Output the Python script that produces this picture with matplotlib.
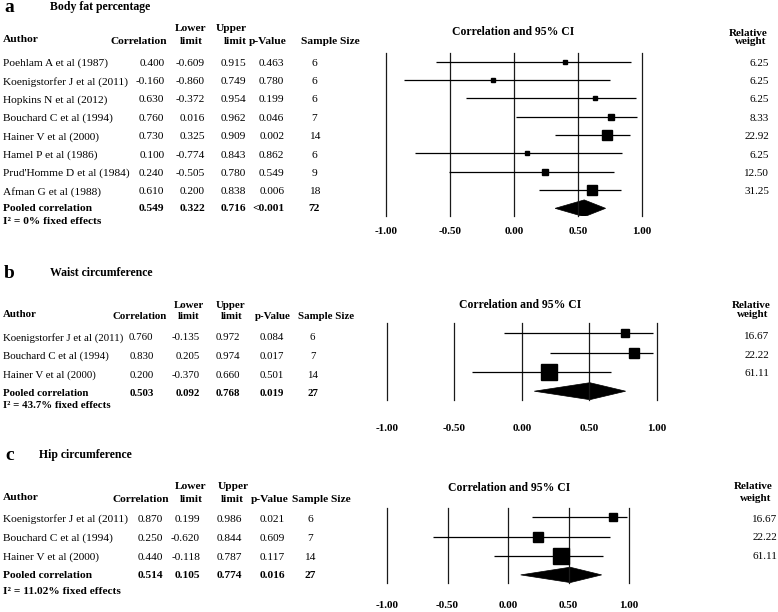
import matplotlib
matplotlib.use("Agg")
import numpy as np
import matplotlib.pyplot as plt
from matplotlib.patches import Polygon

W, H = 778, 612
plt.rcParams['font.family'] = ['Liberation Serif', 'DejaVu Serif']

# ---- data: a) body fat percentage ----
authors_a = ["Poehlam A et al (1987)", "Koenigstorfer J et al (2011)", "Hopkins N et al (2012)",
             "Bouchard C et al (1994)", "Hainer V et al (2000)", "Hamel P et al (1986)",
             "Prud'Homme D et al (1984)", "Afman G et al (1988)"]
corr_a = [0.400, -0.160, 0.630, 0.760, 0.730, 0.100, 0.240, 0.610]
lower_a = [-0.609, -0.860, -0.372, 0.016, 0.325, -0.774, -0.505, 0.200]
upper_a = [0.915, 0.749, 0.954, 0.962, 0.909, 0.843, 0.780, 0.838]
pval_a = ["0.463", "0.780", "0.199", "0.046", "0.002", "0.862", "0.549", "0.006"]
size_a = [6, 6, 6, 7, 14, 6, 9, 18]
weight_a = [6.25, 6.25, 6.25, 8.33, 22.92, 6.25, 12.50, 31.25]
pooled_a = [0.549, 0.322, 0.716]
pooled_p_a = "<0.001"
pooled_n_a = 72
i2_a = "I\u00b2 = 0% fixed effects"

# ---- data: b) waist circumference ----
authors_b = ["Koenigstorfer J et al (2011)", "Bouchard C et al (1994)", "Hainer V et al (2000)"]
corr_b = [0.760, 0.830, 0.200]
lower_b = [-0.135, 0.205, -0.370]
upper_b = [0.972, 0.974, 0.660]
pval_b = ["0.084", "0.017", "0.501"]
size_b = [6, 7, 14]
weight_b = [16.67, 22.22, 61.11]
pooled_b = [0.503, 0.092, 0.768]
pooled_p_b = "0.019"
pooled_n_b = 27
i2_b = "I\u00b2 = 43.7% fixed effects"

# ---- data: c) hip circumference ----
authors_c = ["Koenigstorfer J et al (2011)", "Bouchard C et al (1994)", "Hainer V et al (2000)"]
corr_c = [0.870, 0.250, 0.440]
lower_c = [0.199, -0.620, -0.118]
upper_c = [0.986, 0.844, 0.787]
pval_c = ["0.021", "0.609", "0.117"]
size_c = [6, 7, 14]
weight_c = [16.67, 22.22, 61.11]
pooled_c = [0.514, 0.105, 0.774]
pooled_p_c = "0.016"
pooled_n_c = 27
i2_c = "I\u00b2 = 11.02% fixed effects"

ticks = [-1.0, -0.5, 0.0, 0.5, 1.0]

fig = plt.figure(figsize=(W / 100, H / 100), dpi=100)


def put(x, y, s, ha='left', size=8.2, bold=False):
    # x, y in pixels from top-left
    fig.text(x / W, 1 - y / H, s, ha=ha, va='center', fontsize=size,
             fontweight='bold' if bold else 'normal')


def draw_panel(letter, title, authors, corr, lower, upper, pval, size, weight,
               pooled, pooled_p, pooled_n, i2, L):
    fs = L['fs']
    # title
    put(L['letter_x'], L['title_y'], letter, size=14, bold=True)
    put(L['title_x'], L['title_y'], title, size=8.5, bold=True)

    # table header
    hy1, hy2 = L['head_y']
    put(3, hy2 - 2, "Author", size=fs, bold=True)
    put(L['h_corr'], hy2, "Correlation", ha='right', size=fs, bold=True)
    put(L['h_low'], hy1, "Lower", ha='center', size=fs, bold=True)
    put(L['h_low'], hy2, "limit", ha='center', size=fs, bold=True)
    put(L['h_up'][0], hy1, "Upper", ha='center', size=fs, bold=True)
    put(L['h_up'][1], hy2, "limit", ha='center', size=fs, bold=True)
    put(L['h_p'], hy2, "p-Value", ha='center', size=fs, bold=True)
    put(L['h_n'], hy2, "Sample Size", ha='center', size=fs, bold=True)

    # table rows
    cx = L['cols']
    for i, name in enumerate(authors):
        y = L['rows'][i]
        put(3, y, name, size=fs)
        put(cx[0], y, f"{corr[i]:.3f}", ha='right', size=fs)
        put(cx[1], y, f"{lower[i]:.3f}", ha='right', size=fs)
        put(cx[2], y, f"{upper[i]:.3f}", ha='right', size=fs)
        put(cx[3], y, pval[i], ha='right', size=fs)
        put(cx[4], y, str(size[i]), ha='center', size=fs)
    y = L['rows'][len(authors)]
    put(3, y, "Pooled correlation", size=fs, bold=True)
    put(cx[0], y, f"{pooled[0]:.3f}", ha='right', size=fs, bold=True)
    put(cx[1], y, f"{pooled[1]:.3f}", ha='right', size=fs, bold=True)
    put(cx[2], y, f"{pooled[2]:.3f}", ha='right', size=fs, bold=True)
    put(cx[3], y, pooled_p, ha='right', size=fs, bold=True)
    put(cx[4], y, str(pooled_n), ha='center', size=fs, bold=True)
    put(3, L['i2_y'], i2, size=fs, bold=True)

    # right header + weights
    put(L['ci_title'][0], L['ci_title'][1], "Correlation and 95% CI", ha='center', size=8.4, bold=True)
    put(L['rw_x'], L['rw_y'][0], "Relative", ha='center', size=8, bold=True)
    put(L['rw_x'] + 2, L['rw_y'][1], "weight", ha='center', size=8, bold=True)
    for i, w in enumerate(weight):
        put(L['w_x'], L['w_rows'][i], f"{w:.2f}", ha='right', size=8)

    # forest plot axes
    x0, x1 = L['x_px']
    ytop, ybot = L['y_px']
    r0, step = L['row0'], L['step']
    ax = fig.add_axes([x0 / W, 1 - ybot / H, (x1 - x0) / W, (ybot - ytop) / H])
    ax.set_xlim(-1, 1)
    ax.set_ylim((ybot - r0) / step, (ytop - r0) / step)
    for t in ticks:
        ax.axvline(t, color='#1a1a1a', lw=0.9, clip_on=False)
    n = len(corr)
    rows = np.arange(n)
    ax.hlines(rows, lower, upper, color='black', lw=0.9)
    for i in range(n):
        ax.plot(corr[i], rows[i], marker='s', color='black', ms=1.4 * np.sqrt(weight[i]),
                linestyle='none', zorder=3)
    h = L['dh']
    diamond = Polygon([(pooled[1], n), (pooled[0], n - h), (pooled[2], n), (pooled[0], n + h)],
                      closed=True, facecolor='black', edgecolor='black', lw=0.5)
    ax.add_patch(diamond)
    ax.set_xticks(ticks)
    ax.set_xticklabels([f"{t:.2f}" for t in ticks], fontweight='bold', fontsize=8)
    ax.tick_params(axis='x', length=0, pad=L['pad'])
    ax.set_yticks([])
    for s in ax.spines.values():
        s.set_visible(False)
    ax.patch.set_visible(False)


layout_a = dict(fs=8.2, letter_x=4, title_x=50, title_y=7, head_y=(28.3, 41.7),
                h_corr=166.7, h_low=191, h_up=(231.7, 235.8), h_p=267.5, h_n=330,
                cols=[164.3, 205, 246, 284.3, 314.3],
                rows=[63.3, 81.7, 100, 118.3, 136.7, 155, 173.3, 191.7, 208.5], i2_y=221,
                ci_title=(513.3, 31.7), rw_x=748.3, rw_y=(33.3, 41.7), w_x=769,
                w_rows=[63.3, 81.7, 100, 118.3, 136.7, 155, 173.3, 191.7],
                x_px=(385.7, 642), y_px=(53, 216), row0=61.7, step=18.33, dh=0.46, pad=8)

layout_b = dict(fs=7.8, letter_x=4, title_x=50, title_y=273.3, head_y=(305.5, 316.7),
                h_corr=166.7, h_low=189, h_up=(230.5, 231.7), h_p=273, h_n=326,
                cols=[153.5, 200, 240.5, 284, 312.7],
                rows=[337.7, 356.5, 375, 393.3], i2_y=405,
                ci_title=(520, 305), rw_x=751, rw_y=(305, 315), w_x=769,
                w_rows=[336.7, 355, 373.3],
                x_px=(386.7, 657), y_px=(323, 400), row0=333.3, step=19.3, dh=0.44, pad=17)

layout_c = dict(fs=8.2, letter_x=5, title_x=39.3, title_y=455, head_y=(486.7, 499.3),
                h_corr=169.3, h_low=191, h_up=(233.3, 232.7), h_p=270, h_n=321.7,
                cols=[163.3, 200, 241.7, 285, 310],
                rows=[519.3, 538.3, 557.3, 576], i2_y=591.7,
                ci_title=(509.3, 488.3), rw_x=753.3, rw_y=(486.7, 498.3), w_x=777,
                w_rows=[519, 537.7, 556.7],
                x_px=(387, 629), y_px=(508.3, 583.3), row0=517.3, step=19.2, dh=0.4, pad=13)

draw_panel("a", "Body fat percentage", authors_a, corr_a, lower_a, upper_a, pval_a, size_a,
           weight_a, pooled_a, pooled_p_a, pooled_n_a, i2_a, layout_a)
draw_panel("b", "Waist circumference", authors_b, corr_b, lower_b, upper_b, pval_b, size_b,
           weight_b, pooled_b, pooled_p_b, pooled_n_b, i2_b, layout_b)
draw_panel("c", "Hip circumference", authors_c, corr_c, lower_c, upper_c, pval_c, size_c,
           weight_c, pooled_c, pooled_p_c, pooled_n_c, i2_c, layout_c)

fig.savefig("out.png", dpi=100, facecolor='white')
